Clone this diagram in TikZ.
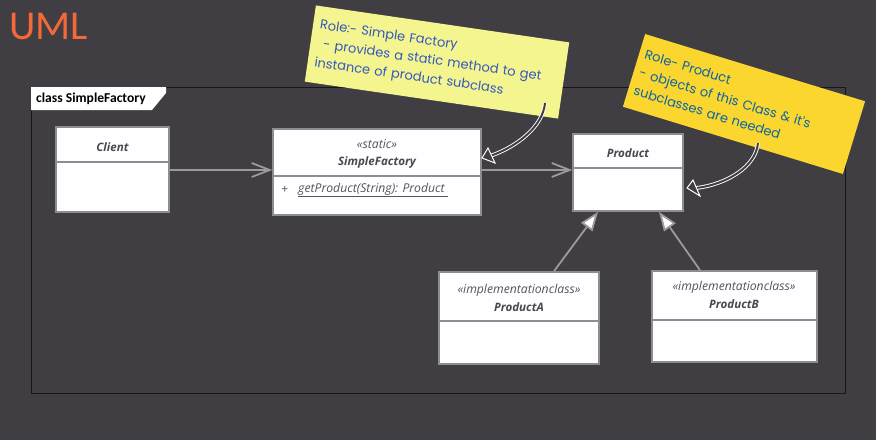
\documentclass[tikz,border=0pt]{standalone}
\usepackage{fontspec}
\setmainfont{Open Sans}
\newfontfamily\carlito{Carlito}
\newfontfamily\notefont{Poppins}
\usetikzlibrary{arrows.meta}
\definecolor{bgc}{RGB}{64,62,66}
\definecolor{framec}{RGB}{22,22,24}
\definecolor{umlc}{RGB}{244,104,58}
\definecolor{boxline}{RGB}{142,140,145}
\definecolor{boxfill}{RGB}{254,253,255}
\definecolor{conn}{RGB}{156,154,158}
\definecolor{nametxt}{RGB}{74,72,78}
\definecolor{stereotxt}{RGB}{84,84,90}
\definecolor{noteA}{RGB}{244,245,143}
\definecolor{noteAtxt}{RGB}{52,88,190}
\definecolor{noteB}{RGB}{251,214,47}
\definecolor{noteBtxt}{RGB}{12,100,165}
\begin{document}
\begin{tikzpicture}[x=1pt,y=-1pt,
  classbox/.style={draw=boxline, fill=boxfill, line width=1.6pt, inner sep=0pt},
  divider/.style={draw=boxline, line width=1.6pt},
  cname/.style={font=\bfseries\itshape\fontsize{11.6}{13}\selectfont, text=nametxt, inner sep=0pt},
  stereo/.style={font=\itshape\fontsize{12.2}{14}\selectfont, text=stereotxt, inner sep=0pt},
  assoc/.style={draw=conn, line width=1.8pt, -{Straight Barb[length=18pt,width=14pt]}},
  gen/.style={draw=conn, line width=1.8pt, -{Triangle[length=19pt,width=14pt,fill=white]}},
  note/.style={inner xsep=7pt, inner ysep=5pt, align=left, font=\notefont\fontsize{13}{19}\selectfont},
  callout/.style={draw=white, line width=0.9pt, double=bgc, double distance=2pt},
  callhead/.style={draw=white, line width=1pt, fill=bgc, line join=miter}
]
\path[fill=bgc] (0,0) rectangle (876,440);
\useasboundingbox (0,0) rectangle (876,440);

% title
\node[anchor=west, font=\carlito\fontsize{41}{44}\selectfont, text=umlc, inner sep=0pt] (uml) at (9,26) {UML};

% frame
\draw[framec, line width=0.8pt] (31,87) rectangle (845,393);
\path[fill=white] (31,87) -- (166,87) -- (166,93) -- (152,110) -- (31,110) -- cycle;
\node[anchor=west, font=\carlito\bfseries\fontsize{13.6}{15}\selectfont, inner sep=0pt] (tab) at (36,99) {class SimpleFactory};

% classes
\node[classbox, minimum width=113pt, minimum height=85pt] (client) at (112.5,169.5) {};
\draw[divider] (client.west |- 0,162) -- (client.east |- 0,162);
\node[cname] (clientname) at (112.5,147) {Client};

\node[classbox, minimum width=208pt, minimum height=86pt] (sf) at (377,172) {};
\draw[divider] (sf.west |- 0,176) -- (sf.east |- 0,176);
\node[stereo] (sfst) at (377,144) {«static»};
\node[cname] (sfname) at (377,162) {SimpleFactory};
\node[stereo, anchor=west] (plus) at (281,190) {+};
\node[stereo, anchor=west] (op) at (298,190) {\underline{getProduct(String): Product\ }};

\node[classbox, minimum width=110pt, minimum height=77pt] (prod) at (628,172.5) {};
\draw[divider] (prod.west |- 0,168) -- (prod.east |- 0,168);
\node[cname] (prodname) at (628,153) {Product};

\node[classbox, minimum width=160pt, minimum height=92pt] (pa) at (519,318) {};
\draw[divider] (pa.west |- 0,321) -- (pa.east |- 0,321);
\node[stereo] (past) at (519,290) {«implementationclass»};
\node[cname] (paname) at (519,307) {ProductA};

\node[classbox, minimum width=165pt, minimum height=91pt] (pb) at (734.5,316.5) {};
\draw[divider] (pb.west |- 0,320) -- (pb.east |- 0,320);
\node[stereo] (pbst) at (734,287) {«implementationclass»};
\node[cname] (pbname) at (734,304) {ProductB};

% connectors
\draw[assoc] (client.east |- 0,170) -- (sf.west |- 0,170);
\draw[assoc] (sf.east |- 0,170) -- (prod.west |- 0,170);
\draw[gen] (pa.north -| 554,0) -- (prod.south -| 598,0);
\draw[gen] (pb.north -| 700,0) -- (prod.south -| 659,0);

% notes
\node[note, fill=noteA, text=noteAtxt, minimum width=256pt, minimum height=77pt, text width=242pt, rotate=-8.3] (n1) at (437,62)
  {Role:- Simple Factory\\\hspace*{6pt}- provides a static method to get\\instance of product subclass};
\node[note, fill=noteB, text=noteBtxt, minimum width=230pt, minimum height=76pt, text width=218pt, inner xsep=6pt, rotate=-17] (n2) at (744,104)
  {Role- Product\\- objects of this Class \& it's\\subclasses are needed};

% callout arrows
\coordinate (s1) at (545,103);
\coordinate (b1) at (491.5,155.5);
\coordinate (t1) at (482,158);
\draw[callout] (s1) .. controls (543,126) and (518,146) .. (b1);
\draw[callhead] (t1) -- (488,148) -- (495,163) -- cycle;

\coordinate (s2) at (758,143);
\coordinate (b2) at (696.5,188);
\coordinate (t2) at (687,188);
\draw[callout] (s2) .. controls (756,166) and (728,184) .. (b2);
\draw[callhead] (t2) -- (693,180) -- (700,196) -- cycle;
\end{tikzpicture}
\end{document}
